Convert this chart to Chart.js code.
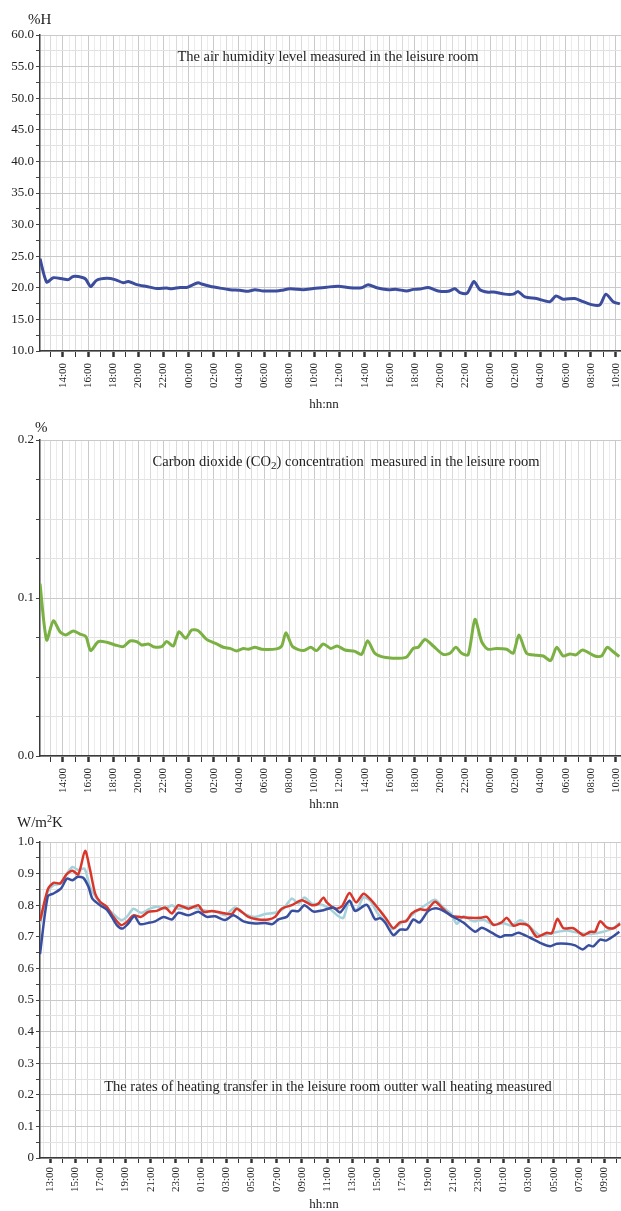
<!DOCTYPE html>
<html><head><meta charset="utf-8">
<script src="https://cdn.jsdelivr.net/npm/chart.js@4.4.1/dist/chart.umd.min.js"></script>
<style>
html,body{margin:0;padding:0;background:#fff;}
#wrap{position:relative;width:621px;height:1211px;overflow:hidden;font-family:"Liberation Serif","Times New Roman",serif;color:#222;}
canvas{position:absolute;left:0;}
.t{position:absolute;white-space:nowrap;line-height:1;}
.c{transform:translateX(-50%);}
</style></head><body>
<div id="wrap">
<canvas id="c1" width="621" height="415" style="top:0px"></canvas>
<canvas id="c2" width="621" height="400" style="top:415px"></canvas>
<canvas id="c3" width="621" height="396" style="top:815px"></canvas>
<div class="t" style="left:28px;top:12px;font-size:15px">%H</div>
<div class="t c" style="left:328px;top:49px;font-size:14.5px">The air humidity level measured in the leisure room</div>
<div class="t c" style="left:324px;top:397px;font-size:13px">hh:nn</div>
<div class="t" style="left:35px;top:420px;font-size:15px">%</div>
<div class="t c" style="left:346px;top:454px;font-size:14.5px">Carbon dioxide (CO<span style="font-size:11px;position:relative;top:3px">2</span>) concentration&nbsp; measured in the leisure room</div>
<div class="t c" style="left:324px;top:797px;font-size:13px">hh:nn</div>
<div class="t" style="left:17px;top:815px;font-size:15px">W/m<span style="font-size:10px;position:relative;top:-5px">2</span>K</div>
<div class="t c" style="left:328px;top:1079px;font-size:14.5px">The rates of heating transfer in the leisure room outter wall heating measured</div>
<div class="t c" style="left:324px;top:1197px;font-size:13px">hh:nn</div>
</div>
<script>
// ---------- DATA (time in hours from 00:00 of day 1) ----------
const humTimes = [12.17,12.70,13.23,14.02,14.42,14.82,15.61,15.83,16.20,16.68,17.48,18.14,18.80,19.19,19.86,20.66,21.45,22.25,22.65,23.31,23.84,24.24,24.76,25.03,25.69,26.49,27.29,28.08,28.74,29.27,29.94,31.0,31.40,32.06,33.12,33.91,34.98,35.90,36.83,37.76,38.29,38.96,39.88,40.55,41.34,41.87,42.40,43.06,43.86,44.65,45.19,45.58,46.16,46.70,47.17,47.83,48.23,49.16,49.82,50.22,50.75,51.68,52.74,53.22,53.80,54.73,55.39,56.14,56.72,57.20,57.78,58.31];
const humValues = [24.6,20.9,21.6,21.4,21.3,21.8,21.6,21.3,20.2,21.2,21.5,21.3,20.8,21.0,20.5,20.2,19.9,19.95,19.85,20.05,20.05,20.4,20.8,20.6,20.25,19.95,19.7,19.6,19.45,19.7,19.5,19.5,19.6,19.85,19.7,19.9,20.1,20.25,20.0,20.0,20.5,20.0,19.7,19.75,19.5,19.75,19.8,20.05,19.5,19.45,19.85,19.25,19.15,21.0,19.7,19.3,19.35,19.0,19.0,19.4,18.55,18.3,17.8,18.7,18.2,18.3,17.8,17.3,17.3,19.0,17.8,17.45];

const co2Times = [12.17,12.70,13.23,13.76,14.21,14.82,15.35,15.83,16.20,16.81,17.48,18.14,18.80,19.33,19.86,20.26,20.79,21.18,21.85,22.25,22.77,23.23,23.76,24.24,24.76,25.43,26.23,26.75,27.29,27.82,28.34,28.74,29.27,29.81,31.0,31.40,31.74,32.27,33.12,33.71,34.18,34.71,35.30,35.82,36.43,37.23,37.76,38.24,38.82,39.70,41.29,41.87,42.27,42.80,43.46,44.25,44.79,45.26,45.72,46.24,46.78,47.31,47.79,48.50,49.30,49.82,50.28,50.89,51.68,52.21,52.80,53.28,53.80,54.34,54.81,55.34,56.32,56.85,57.30,57.78,58.26];
const co2Values = [0.109,0.0734,0.0856,0.0787,0.0766,0.0791,0.0772,0.0755,0.0667,0.0724,0.0720,0.0703,0.0692,0.0728,0.0724,0.0703,0.0709,0.0692,0.0692,0.0724,0.0696,0.0787,0.0745,0.0797,0.0793,0.0738,0.0709,0.0688,0.0681,0.0665,0.0680,0.0676,0.0688,0.0676,0.0678,0.0696,0.0780,0.0692,0.0667,0.0688,0.0667,0.0709,0.0681,0.0696,0.0671,0.0662,0.0643,0.0730,0.0650,0.0624,0.0624,0.0681,0.0688,0.0738,0.0696,0.0643,0.0650,0.0688,0.0650,0.0641,0.0865,0.0724,0.0676,0.0681,0.0676,0.0650,0.0766,0.0650,0.0637,0.0633,0.0604,0.0688,0.0633,0.0646,0.0640,0.0671,0.0633,0.0633,0.0688,0.0660,0.0629];

const heatBlueTimes = [12.2,12.82,13.27,13.88,14.33,14.78,15.2,15.65,16.05,16.36,16.97,17.5,17.9,18.3,18.75,19.17,19.7,20.15,20.81,21.34,22.0,22.67,23.19,23.99,24.78,25.45,26.11,26.9,27.56,28.36,29.28,30.08,30.66,31.14,31.8,32.2,32.73,33.2,33.92,34.71,35.51,36.04,36.78,37.23,38.16,38.82,39.21,39.61,40.27,40.8,41.33,41.86,42.34,43.05,43.66,44.24,45.04,45.83,46.76,47.29,48.08,48.75,49.14,49.67,50.2,51.13,51.92,52.72,53.25,54.04,54.7,55.31,55.76,56.16,56.69,57.17,57.75,58.22];
const heatBlueValues = [0.645,0.828,0.837,0.853,0.884,0.879,0.890,0.886,0.858,0.821,0.800,0.786,0.763,0.737,0.726,0.740,0.765,0.740,0.744,0.749,0.763,0.755,0.776,0.768,0.779,0.763,0.765,0.753,0.768,0.749,0.742,0.744,0.740,0.755,0.763,0.782,0.781,0.800,0.780,0.784,0.793,0.777,0.814,0.782,0.801,0.755,0.759,0.745,0.705,0.723,0.723,0.755,0.745,0.782,0.790,0.782,0.763,0.745,0.716,0.729,0.713,0.699,0.705,0.705,0.713,0.697,0.681,0.670,0.678,0.678,0.673,0.660,0.673,0.670,0.691,0.688,0.702,0.716];

const heatRedTimes = [12.2,12.82,13.27,13.8,14.33,14.78,15.25,15.78,16.18,16.58,16.97,17.5,18.03,18.64,19.09,19.62,20.23,20.81,21.47,22.14,22.67,23.19,23.99,24.78,25.18,25.84,26.64,27.43,27.83,28.75,29.55,30.34,30.87,31.4,32.2,33.0,33.79,34.31,34.71,34.98,35.64,36.17,36.78,37.31,37.89,38.42,39.22,39.75,40.27,40.8,41.28,41.73,42.39,42.92,43.58,44.25,44.91,45.57,46.36,47.16,47.69,48.22,48.88,49.28,49.81,50.34,51.0,51.66,52.45,52.85,53.3,53.78,54.57,55.37,55.9,56.29,56.69,57.22,57.75,58.28];
const heatRedValues = [0.75,0.850,0.871,0.869,0.898,0.909,0.898,0.972,0.911,0.837,0.811,0.795,0.763,0.737,0.747,0.768,0.763,0.779,0.782,0.793,0.774,0.800,0.789,0.800,0.779,0.782,0.776,0.772,0.789,0.763,0.755,0.755,0.763,0.789,0.800,0.816,0.800,0.805,0.824,0.809,0.789,0.796,0.839,0.809,0.836,0.820,0.782,0.754,0.727,0.746,0.749,0.774,0.787,0.785,0.811,0.787,0.765,0.763,0.760,0.760,0.763,0.738,0.746,0.760,0.735,0.741,0.735,0.700,0.713,0.711,0.757,0.727,0.727,0.705,0.716,0.716,0.749,0.730,0.727,0.741];

const heatCyanTimes = [12.2,12.82,13.27,13.88,14.33,14.78,15.25,15.73,16.18,16.71,17.37,18.03,18.64,19.09,19.62,20.23,20.94,21.47,22.14,22.67,23.19,23.99,24.78,25.45,26.24,26.9,27.7,28.49,29.28,30.08,30.87,31.53,32.2,32.73,33.2,33.79,34.45,35.11,35.91,36.3,36.78,37.31,37.89,38.42,39.08,39.75,40.14,40.8,41.33,42.13,42.92,43.58,44.25,44.91,45.3,45.83,46.63,47.42,48.22,49.01,49.67,50.34,51.0,51.92,52.98,54.04,55.1,55.9,56.95,57.75,58.28];
const heatCyanValues = [0.74,0.842,0.863,0.869,0.900,0.921,0.911,0.916,0.858,0.821,0.795,0.772,0.753,0.763,0.789,0.776,0.789,0.795,0.789,0.800,0.789,0.795,0.789,0.782,0.779,0.768,0.793,0.772,0.763,0.772,0.776,0.789,0.821,0.805,0.824,0.805,0.803,0.792,0.765,0.760,0.814,0.782,0.825,0.814,0.771,0.743,0.724,0.741,0.754,0.782,0.803,0.817,0.792,0.771,0.741,0.765,0.749,0.754,0.738,0.743,0.735,0.752,0.735,0.705,0.713,0.720,0.711,0.709,0.716,0.727,0.745];

// tick labels
const humXLabelHours = [14,16,18,20,22,24,26,28,30,32,34,36,38,40,42,44,46,48,50,52,54,56,58];
const humXLabels = ['14:00','16:00','18:00','20:00','22:00','00:00','02:00','04:00','06:00','08:00','10:00','12:00','14:00','16:00','18:00','20:00','22:00','00:00','02:00','04:00','06:00','08:00','10:00'];
const heatXLabelHours = [13,15,17,19,21,23,25,27,29,31,33,35,37,39,41,43,45,47,49,51,53,55,57];
const heatXLabels = ['13:00','15:00','17:00','19:00','21:00','23:00','01:00','03:00','05:00','07:00','09:00','11:00','13:00','15:00','17:00','19:00','21:00','23:00','01:00','03:00','05:00','07:00','09:00'];
const humYLabelValues = [10,15,20,25,30,35,40,45,50,55,60];
const humYLabels = ['10.0','15.0','20.0','25.0','30.0','35.0','40.0','45.0','50.0','55.0','60.0'];
const co2YLabelValues = [0,0.1,0.2];
const co2YLabels = ['0.0','0.1','0.2'];
const heatYLabelValues = [0,0.1,0.2,0.3,0.4,0.5,0.6,0.7,0.8,0.9,1.0];
const heatYLabels = ['0','0.1','0.2','0.3','0.4','0.5','0.6','0.7','0.8','0.9','1.0'];

// ---------- helpers ----------
const near = (a,b)=>Math.abs(a-b)<1e-6;
function idxOf(arr,v){ for(let i=0;i<arr.length;i++){ if(near(arr[i],v)) return i; } return -1; }
function range(a,b,s){ const r=[]; for(let v=a; v<=b+1e-9; v+=s) r.push(Math.round(v*10000)/10000); return r; }
const FONT = "'Liberation Serif','Times New Roman',serif";

function pts(t,v){ return t.map((x,i)=>({x:x,y:v[i]})); }

function build(id, o){
  const xt = range(o.xTickStart, o.xTickEnd, o.xStep);
  const yt = range(o.yMin, o.yMax, o.yStep);
  return new Chart(document.getElementById(id), {
    type:'line',
    data:{datasets:o.datasets.map(d=>({data:pts(d.t,d.v),borderColor:d.color,borderWidth:d.w,pointRadius:0,tension:0.25,fill:false}))},
    options:{
      responsive:false, animation:false, devicePixelRatio:1,
      layout:{padding:{top:o.top,left:0,right:0,bottom:0},autoPadding:false},
      plugins:{legend:{display:false},tooltip:{enabled:false}},
      scales:{
        x:{type:'linear',min:o.xMin,max:o.xMax,
          afterBuildTicks:s=>{s.ticks=xt.map(v=>({value:v}));},
          afterFit:s=>{s.height=o.xH; s.paddingLeft=0; s.paddingRight=0;},
          border:{display:true,color:'#3a3a3a',width:1.5},
          grid:{
            color:c=>{const v=c.tick.value; if(idxOf(o.xLabelHours,v)>=0) return '#cacaca'; if(near(v,Math.round(v))) return '#dadada'; return '#ececec';},
            tickColor:c=>{const v=c.tick.value; if(near(v,Math.round(v))) return '#333'; return 'rgba(0,0,0,0)';},
            tickWidth:c=>{const v=c.tick.value; return idxOf(o.xLabelHours,v)>=0?2.5:1;},
            tickLength:o.xTickLen, lineWidth:1},
          ticks:{autoSkip:false,minRotation:90,maxRotation:90,padding:o.xPad,color:'#222',font:{family:FONT,size:11},
            callback:v=>{const i=idxOf(o.xLabelHours,v); return i>=0?o.xLabels[i]:'';}}
        },
        y:{type:'linear',min:o.yMin,max:o.yMax,
          afterBuildTicks:s=>{s.ticks=yt.map(v=>({value:v}));},
          afterFit:s=>{s.width=40; s.paddingTop=0; s.paddingBottom=0;},
          border:{display:true,color:'#3a3a3a',width:1.5},
          grid:{
            color:c=>{const v=c.tick.value; return idxOf(o.yLabelValues,v)>=0?'#cacaca':'#e2e2e2';},
            tickColor:'#444', tickLength:4, lineWidth:1},
          ticks:{autoSkip:false,padding:2,color:'#222',font:{family:FONT,size:13},
            callback:v=>{const i=idxOf(o.yLabelValues,v); return i>=0?o.yLabels[i]:'';}}
        }
      }
    }
  });
}

build('c1',{top:35,xH:64,xMin:12.17,xMax:58.4,xTickStart:12.5,xTickEnd:58,xStep:0.5,xLabelHours:humXLabelHours,xLabels:humXLabels,xTickLen:6,xPad:6,
  yMin:10,yMax:60,yStep:2.5,yLabelValues:humYLabelValues,yLabels:humYLabels,
  datasets:[{t:humTimes,v:humValues,color:'#3b4d9c',w:3}]});

build('c2',{top:25,xH:59,xMin:12.17,xMax:58.4,xTickStart:12.5,xTickEnd:58,xStep:0.5,xLabelHours:humXLabelHours,xLabels:humXLabels,xTickLen:6,xPad:6,
  yMin:0,yMax:0.2,yStep:0.025,yLabelValues:co2YLabelValues,yLabels:co2YLabels,
  datasets:[{t:co2Times,v:co2Values,color:'#7ab142',w:3}]});

build('c3',{top:27,xH:53,xMin:12.2,xMax:58.35,xTickStart:12.5,xTickEnd:58,xStep:0.5,xLabelHours:heatXLabelHours,xLabels:heatXLabels,xTickLen:5,xPad:4,
  yMin:0,yMax:1,yStep:0.05,yLabelValues:heatYLabelValues,yLabels:heatYLabels,
  datasets:[
    {t:heatBlueTimes,v:heatBlueValues,color:'#3a4ea0',w:2.5},
    {t:heatRedTimes,v:heatRedValues,color:'#d8362b',w:2.5},
    {t:heatCyanTimes,v:heatCyanValues,color:'#a5d2da',w:2.5}
  ]});
</script>
</body></html>
